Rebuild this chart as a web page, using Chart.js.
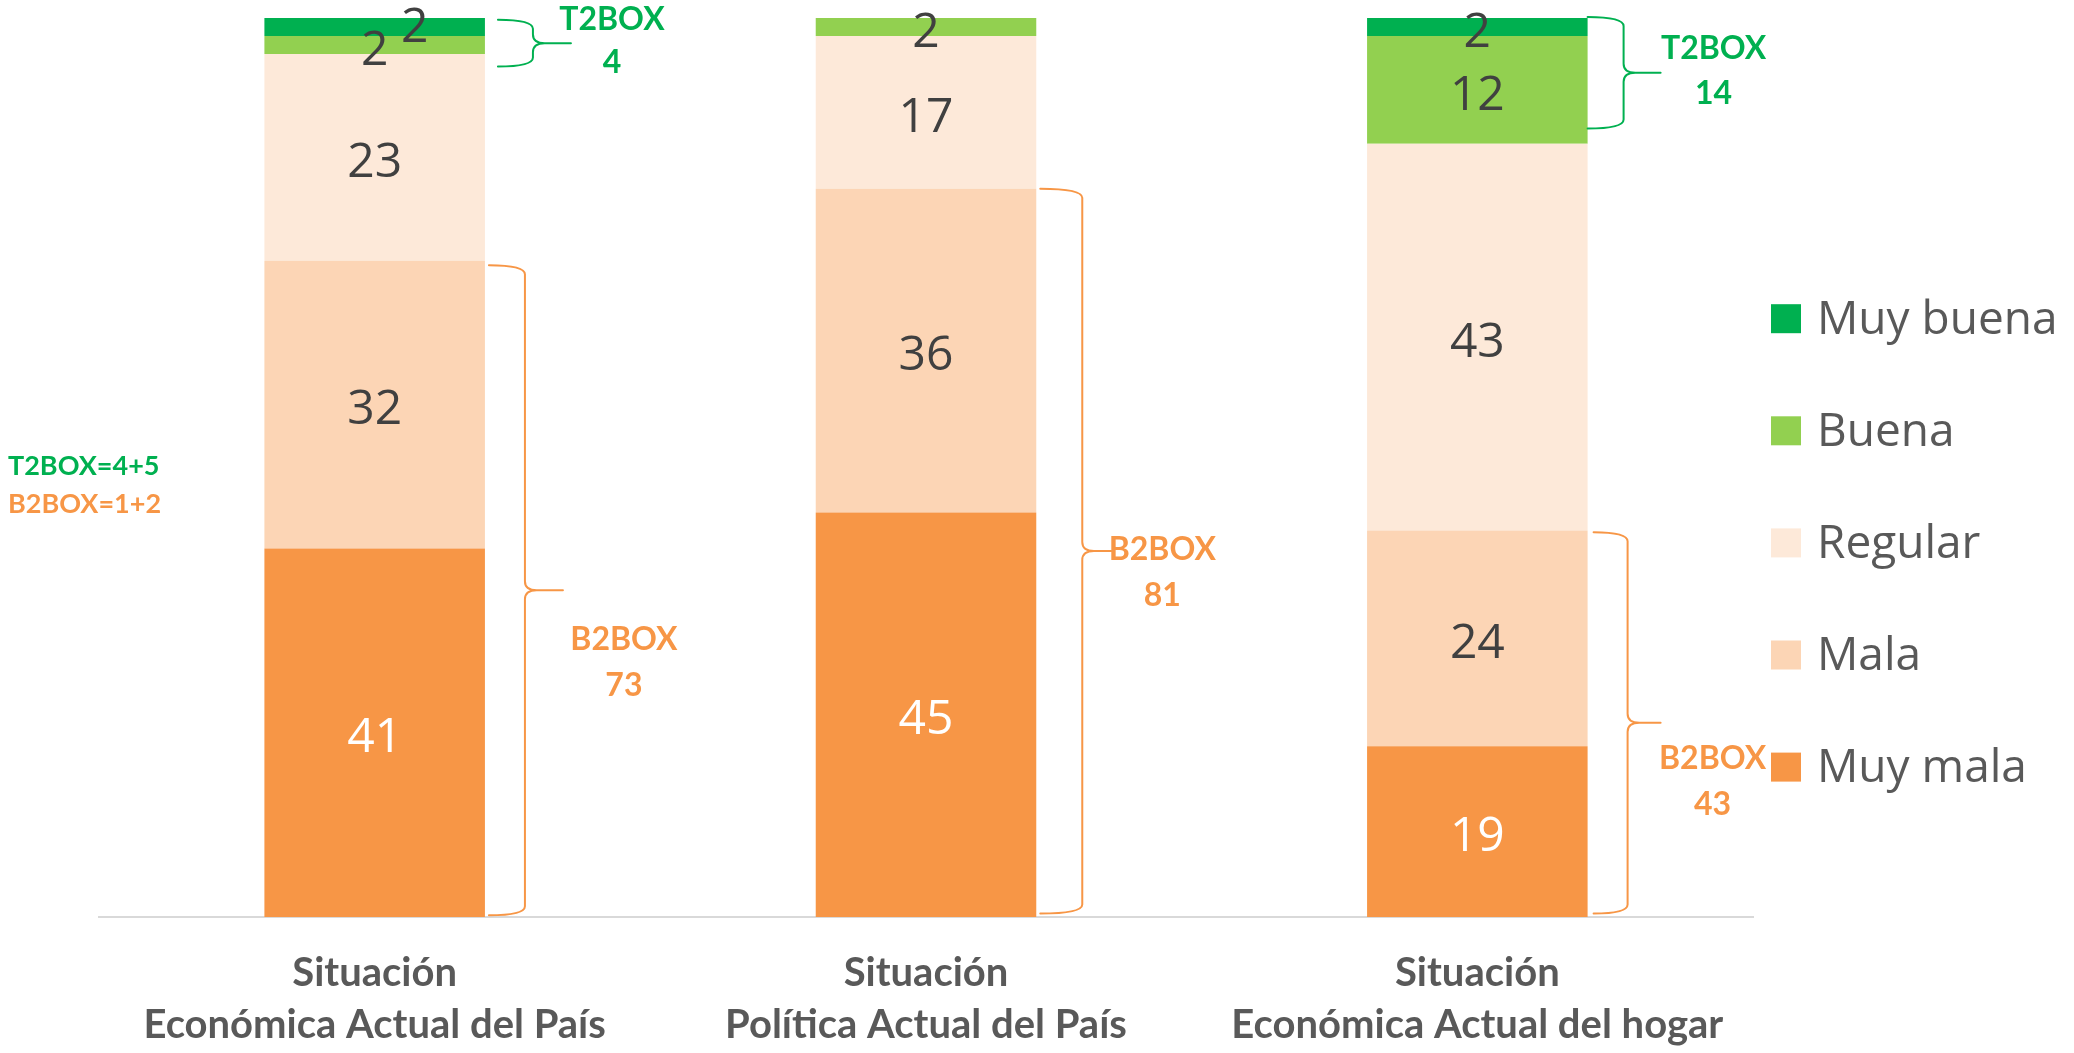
<!DOCTYPE html>
<html><head><meta charset="utf-8">
<script src="https://cdn.jsdelivr.net/npm/chart.js@4.4.0/dist/chart.umd.min.js"></script>
<style>html,body{margin:0;padding:0;background:#fff;} #wrap{width:2074px;height:1053px;position:relative;}</style>
</head><body><div id="wrap"><canvas id="c" width="2074" height="1053"></canvas></div>
<script>
// ---- data ----
const categories = [["Situación","Económica Actual del País"],["Situación","Política Actual del País"],["Situación","Económica Actual del hogar"]];
const seriesNames = ["Muy mala","Mala","Regular","Buena","Muy buena"];
const muyMala  = [41,45,19];
const mala     = [32,36,24];
const regular  = [23,17,43];
const buena    = [2,2,12];
const muyBuena = [2,0,2];
const t2box = [4,null,14];
const b2box = [73,81,43];
// brace spans (value units)
const t2From = [99.8,null,100.1];
const t2To   = [94.6,null,87.7];
const b2From = [72.5,81,42.8];
const b2To   = [0.2,0.4,0.4];
const noteLines = ["T2BOX=4+5","B2BOX=1+2"];

// ---- styles ----
const seriesColors = ["#F79646","#FCD5B5","#FDE9D9","#92D050","#00B050"];
const GREEN = "#00B050", ORANGE = "#F79646";
const labelOffsets = {"4-0":[40,-4.5]};
const t2Geo = [{s:13,v:48,t:86,lx:127,ly:[-23,20]}, null, {s:0,v:36,t:73,lx:126,ly:[-24,21]}];
const b2Geo = [{s:4,v:40,t:78,lx:139,ly:[49,95]}, {s:4,v:46,t:75,lx:126,ly:[-1,45]}, {s:6,v:40,t:73,lx:125,ly:[36,82]}];

const seriesData = [muyMala,mala,regular,buena,muyBuena];

function brace(ctx,x0,xv,xt,yTop,yBot,color){
  const yMid=(yTop+yBot)/2, r=Math.min(9,(yBot-yTop)/5);
  ctx.save();
  ctx.strokeStyle=color; ctx.lineWidth=2; ctx.lineJoin='round'; ctx.lineCap='round';
  ctx.beginPath();
  ctx.moveTo(x0,yTop);
  ctx.quadraticCurveTo(xv,yTop,xv,yTop+r);
  ctx.lineTo(xv,yMid-r);
  ctx.quadraticCurveTo(xv,yMid,xv+r*1.3,yMid);
  ctx.lineTo(xt,yMid);
  ctx.moveTo(xv+r*1.3,yMid);
  ctx.quadraticCurveTo(xv,yMid,xv,yMid+r);
  ctx.lineTo(xv,yBot-r);
  ctx.quadraticCurveTo(xv,yBot,x0,yBot);
  ctx.stroke();
  ctx.restore();
}

const overlay = {
  id:'overlay',
  afterDatasetsDraw(chart){
    const ctx=chart.ctx, y=chart.scales.y;
    // data labels
    chart.data.datasets.forEach((ds,di)=>{
      const meta=chart.getDatasetMeta(di);
      meta.data.forEach((el,i)=>{
        const v=ds.data[i]; if(!v) return;
        const off=labelOffsets[di+'-'+i]||[0,0];
        ctx.save();
        ctx.fillStyle = di===0 ? '#FFFFFF' : '#404040';
        ctx.font='48px "Open Sans"';
        ctx.textAlign='center'; ctx.textBaseline='middle';
        ctx.fillText(String(v), el.x+off[0], (el.y+el.base)/2+off[1]+6);
        ctx.restore();
      });
    });
    // braces
    const refMeta=chart.getDatasetMeta(0);
    function doBrace(i,from,to,val,geo,color){
      if(val==null||!geo) return;
      const el=refMeta.data[i];
      const right=el.x+el.width/2;
      const yt=y.getPixelForValue(from), yb=y.getPixelForValue(to);
      brace(ctx,right+geo.s,right+geo.v,right+geo.t,yt,yb,color);
      const mid=(yt+yb)/2;
      ctx.save();
      ctx.fillStyle=color; ctx.font='bold 32px Lato';
      ctx.textAlign='center'; ctx.textBaseline='middle';
      ctx.fillText(color===GREEN?'T2BOX':'B2BOX', right+geo.lx, mid+geo.ly[0]);
      ctx.fillText(String(val), right+geo.lx, mid+geo.ly[1]);
      ctx.restore();
    }
    for(let i=0;i<categories.length;i++){
      doBrace(i,t2From[i],t2To[i],t2box[i],t2Geo[i],GREEN);
      doBrace(i,b2From[i],b2To[i],b2box[i],b2Geo[i],ORANGE);
    }
    // side note
    ctx.save();
    ctx.font='bold 27px Lato'; ctx.textAlign='left'; ctx.textBaseline='middle';
    ctx.fillStyle=GREEN; ctx.fillText(noteLines[0],8,466);
    ctx.fillStyle=ORANGE; ctx.fillText(noteLines[1],8,504);
    ctx.restore();
    // legend (top to bottom: reverse of stacking order)
    const order=[4,3,2,1,0];
    ctx.save();
    ctx.font='46px "Open Sans"'; ctx.textAlign='left'; ctx.textBaseline='alphabetic';
    order.forEach((di,k)=>{
      const cy=318.7+k*112.1;
      ctx.fillStyle=chart.data.datasets[di].backgroundColor;
      ctx.fillRect(1771,cy-14.5,30,29);
      ctx.fillStyle='#595959';
      ctx.fillText(chart.data.datasets[di].label,1817,cy+15);
    });
    ctx.restore();
  }
};

new Chart(document.getElementById('c'),{
  type:'bar',
  data:{
    labels:categories,
    datasets:seriesNames.map((n,i)=>({label:n,data:seriesData[i],backgroundColor:seriesColors[i],borderWidth:0,categoryPercentage:0.8,barPercentage:0.5}))
  },
  options:{
    responsive:false, animation:false, devicePixelRatio:1,
    layout:{padding:{left:99,right:321,top:18,bottom:0}},
    plugins:{legend:{display:false},tooltip:{enabled:false}},
    scales:{
      x:{stacked:true, grid:{display:false,drawTicks:false},
         border:{display:true,color:'#D9D9D9',width:2},
         ticks:{font:{family:'Lato',weight:'bold',size:40,lineHeight:52/40},color:'#595959',padding:30,maxRotation:0,autoSkip:false},
         afterFit(s){s.height=136;}},
      y:{stacked:true,display:false,min:0,max:100}
    }
  },
  plugins:[overlay]
});
</script></body></html>
